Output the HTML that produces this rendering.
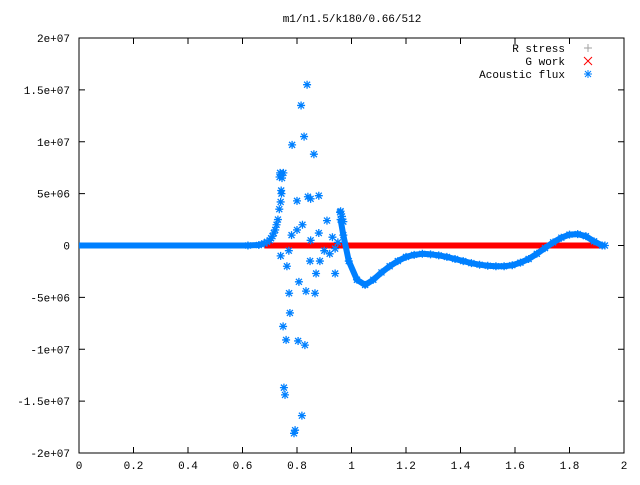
<!DOCTYPE html>
<html><head><meta charset="utf-8"><style>
body{margin:0;background:#fff;}
svg text{font-family:"Liberation Mono","DejaVu Sans Mono",monospace;font-size:11px;fill:#000;}
</style></head><body>
<svg id="chart" width="640" height="480" xmlns="http://www.w3.org/2000/svg">
<text x="352" y="22" text-anchor="middle">m1/n1.5/k180/0.66/512</text>
<g id="axes"></g>
<g id="marks"></g>
<g>
<text x="565" y="52" text-anchor="end">R stress</text>
<text x="565" y="65" text-anchor="end">G work</text>
<text x="565" y="78" text-anchor="end">Acoustic flux</text>
<path d="M584 48h8M588 44v8" stroke="#a0a0a0"/>
<path d="M584 57l8 8M592 57l-8 8" stroke="#f00"/>
<path d="M584 74h8M588 70v8M585 71l6 6M591 71l-6 6" stroke="#0080ff"/>
</g>
</svg>
<script>
const xTicks=[0,0.2,0.4,0.6,0.8,1,1.2,1.4,1.6,1.8,2];
const xTickLabels=["0","0.2","0.4","0.6","0.8","1","1.2","1.4","1.6","1.8","2"];
const yTicks=[-2e7,-1.5e7,-1e7,-5e6,0,5e6,1e7,1.5e7,2e7];
const yTickLabels=["-2e+07","-1.5e+07","-1e+07","-5e+06","0","5e+06","1e+07","1.5e+07","2e+07"];
// acoustic flux smooth part (units 1e6)
const fluxX=[0,0.1,0.2,0.3,0.4,0.5,0.6,0.62,0.66,0.68];
const fluxY=[0,0,0,0,0,0,0,0,0.05,0.2];
const flankX=[0.68,0.69,0.70,0.705,0.71,0.715,0.72,0.725,0.73,0.735,0.74,0.743,0.745,0.75];
const flankY=[0.2,0.35,0.5,0.7,0.9,1.2,1.5,2.0,2.5,3.5,4.2,5,6.5,7];
const tailX=[0.96,0.97,0.99,1.02,1.05,1.08,1.11,1.14,1.17,1.20,1.23,1.26,1.29,1.32,1.35,1.38,1.41,1.44,1.47,1.50,1.53,1.56,1.59,1.62,1.65,1.68,1.71,1.74,1.77,1.80,1.83,1.86,1.89,1.92,1.93];
const tailY=[2.5,1,-1.5,-3.3,-3.8,-3.3,-2.6,-2.0,-1.5,-1.1,-0.9,-0.8,-0.85,-0.95,-1.1,-1.3,-1.5,-1.7,-1.85,-1.95,-2.0,-2.0,-1.9,-1.65,-1.3,-0.8,-0.25,0.3,0.75,1.05,1.1,0.9,0.4,0,0];
const scatterX=[0.837,0.815,0.826,0.782,0.862,0.738,0.736,0.742,0.80,0.84,0.85,0.88,0.958,0.96,0.965,0.97,0.80,0.82,0.78,0.85,0.88,0.91,0.93,0.95,0.90,0.92,0.94,0.74,0.77,0.763,0.807,0.848,0.884,0.87,0.94,0.771,0.833,0.866,0.774,0.749,0.760,0.804,0.829,0.752,0.756,0.818,0.793,0.789];
const scatterY=[15.5,13.5,10.5,9.7,8.8,7.0,6.6,5.3,4.3,4.7,4.5,4.8,3.2,3.3,2.8,2.3,1.5,2.0,1.0,0.5,1.2,2.4,0.8,0.3,-0.5,-0.8,-0.3,-1.0,-0.5,-2.0,-3.5,-1.5,-1.5,-2.7,-2.7,-4.6,-4.4,-4.6,-6.5,-7.8,-9.1,-9.2,-9.6,-13.7,-14.4,-16.4,-17.8,-18.1];
const gStart=0.68, gEnd=1.93;

const L=79,R=624,T=38,B=453;
const sx=v=>L+(v-0)/(2-0)*(R-L);
const sy=v=>B-(v+2e7)/(4e7)*(B-T);
const NS="http://www.w3.org/2000/svg";
const axes=document.getElementById('axes'),marks=document.getElementById('marks');
function mk(tag,attrs,parent){const e=document.createElementNS(NS,tag);for(const k in attrs)e.setAttribute(k,attrs[k]);parent.appendChild(e);return e;}
const frame=mk('rect',{x:L,y:T,width:R-L,height:B-T,fill:'none',stroke:'#000'},axes);


xTicks.forEach((v,i)=>{const x=sx(v);
 const t=mk('path',{d:`M${x} ${B}v-6M${x} ${T}v6`,stroke:'#000'},axes);
 
 
 const l=mk('text',{x:x,y:B+16,'text-anchor':'middle'},axes);l.textContent=xTickLabels[i];
 
 
});
yTicks.forEach((v,i)=>{const y=sy(v);
 const t=mk('path',{d:`M${L} ${y}h6M${R} ${y}h-6`,stroke:'#000'},axes);
 
 
 const l=mk('text',{x:L-9,y:y+4,'text-anchor':'end'},axes);l.textContent=yTickLabels[i];
 
 
});
const g=mk('rect',{x:sx(gStart),y:sy(0)-3,width:sx(gEnd)-sx(gStart),height:6,fill:'#f00'},marks);


function star(x,y,name){const p=mk('path',{d:`M${x-4} ${y}h8M${x} ${y-4}v8M${x-3} ${y-3}l6 6M${x+3} ${y-3}l-6 6`,stroke:'#0080ff','stroke-width':1.3},marks);
 
 }
function band(xs,ys,name){const pl=mk('polyline',{points:xs.map((x,i)=>sx(x)+','+sy(ys[i]*1e6)).join(' '),fill:'none',stroke:'#0080ff','stroke-width':6,'stroke-linejoin':'round'},marks);
 
 }
band(fluxX,fluxY,'acoustic-flux-line-left');
band(tailX,tailY,'acoustic-flux-line-right');
fluxX.forEach((x,i)=>{if(x>=0.62)star(sx(x),sy(fluxY[i]*1e6),'acoustic-flux-point');});
flankX.forEach((x,i)=>star(sx(x),sy(flankY[i]*1e6),'acoustic-flux-point'));
tailX.forEach((x,i)=>star(sx(x),sy(tailY[i]*1e6),'acoustic-flux-point'));
scatterX.forEach((x,i)=>star(sx(x),sy(scatterY[i]*1e6),'acoustic-flux-point'));
</script>
</body></html>
